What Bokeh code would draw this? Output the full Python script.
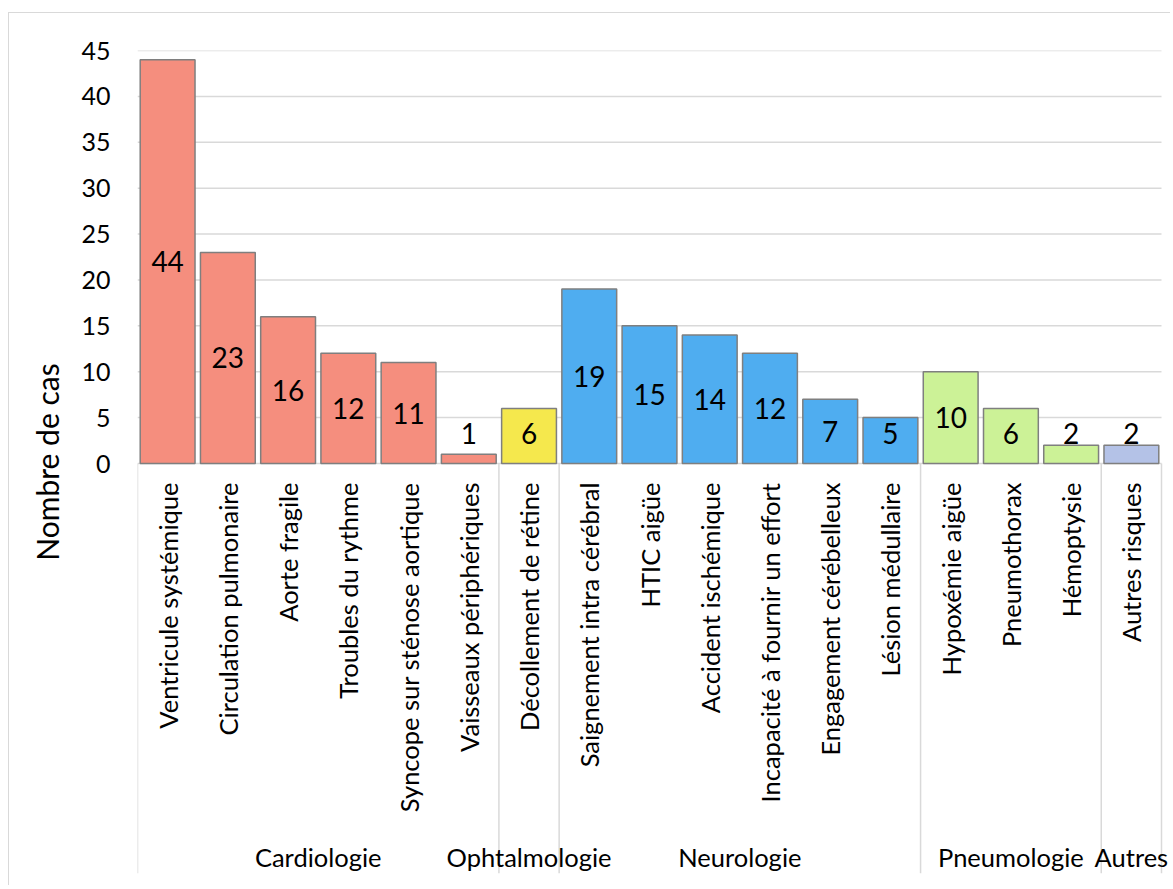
import math
from bokeh.plotting import figure
from bokeh.models import Range1d, FixedTicker, ColumnDataSource, LabelSet
from bokeh.core.properties import value
from bokeh.embed import file_html
from bokeh.resources import INLINE

# ---- data ----
categories = [
    "Ventricule systémique", "Circulation pulmonaire", "Aorte fragile",
    "Troubles du rythme", "Syncope sur sténose aortique", "Vaisseaux périphériques",
    "Décollement de rétine",
    "Saignement intra cérébral", "HTIC aigüe", "Accident ischémique",
    "Incapacité à fournir un effort", "Engagement cérébelleux", "Lésion médullaire",
    "Hypoxémie aigüe", "Pneumothorax", "Hémoptysie",
    "Autres risques",
]
values = [44, 23, 16, 12, 11, 1, 6, 19, 15, 14, 12, 7, 5, 10, 6, 2, 2]
groups = [
    "Cardiologie", "Cardiologie", "Cardiologie", "Cardiologie", "Cardiologie", "Cardiologie",
    "Ophtalmologie",
    "Neurologie", "Neurologie", "Neurologie", "Neurologie", "Neurologie", "Neurologie",
    "Pneumologie", "Pneumologie", "Pneumologie",
    "Autres",
]
group_names = ["Cardiologie", "Ophtalmologie", "Neurologie", "Pneumologie", "Autres"]
group_colors = ["#F58E7E", "#F5E84D", "#4FADF0", "#CCF297", "#B4C2E7"]
y_ticks = [0, 5, 10, 15, 20, 25, 30, 35, 40, 45]
y_label = "Nombre de cas"

# ---- layout constants ----
FONT = "Lato"
FRAME_H = 823
ZERO_PX = 413          # px from frame top to y=0
Y_MAX = 45
PPU = ZERO_PX / Y_MAX  # px per unit (y)
Y_MIN = -(FRAME_H - ZERO_PX) / PPU
PLOT_W = 1024          # px width of the category area
EXTRA_R = 10           # extra frame px to the right (room for the last group label)

def px(d):
    return d / PPU

n = len(categories)
xs = list(range(n))
color_of = dict(zip(group_names, group_colors))
colors = [color_of[g] for g in groups]
x_end = n - 0.5 + EXTRA_R * n / PLOT_W

p = figure(
    width=1162, height=873,
    x_range=Range1d(-0.5, x_end), y_range=Range1d(Y_MIN, Y_MAX),
    output_backend="svg", toolbar_location=None, x_axis_location=None,
    min_border_left=128, min_border_right=0, min_border_top=37, min_border_bottom=13,
    outline_line_color=None,
    styles={"border-left": "1px solid #D9D9D9", "border-top": "1px solid #D9D9D9",
            "margin": "12px 0px 0px 8px"},
)

# axis
p.yaxis.ticker = FixedTicker(ticks=y_ticks)
p.yaxis.axis_line_color = None
p.yaxis.major_tick_line_color = None
p.yaxis.minor_tick_line_color = None
p.yaxis.major_tick_out = 0
p.yaxis.major_tick_in = 0
p.yaxis.major_label_standoff = 27
p.yaxis.major_label_text_font = FONT
p.yaxis.major_label_text_font_size = "25px"
p.yaxis.major_label_text_color = "#000000"
p.yaxis.axis_label = y_label
p.yaxis.axis_label_text_font = FONT
p.yaxis.axis_label_text_font_size = "30px"
p.yaxis.axis_label_text_font_style = "normal"
p.yaxis.axis_label_text_color = "#000000"
p.yaxis.axis_label_standoff = 13
p.xgrid.visible = False
p.ygrid.visible = False

# horizontal gridlines at the y ticks, spanning the category area only
p.segment(x0=[-0.5] * len(y_ticks), x1=[n - 0.5] * len(y_ticks), y0=y_ticks, y1=y_ticks,
          line_color="#D9D9D9", line_width=1.5)

# group separators
bounds = [-0.5] + [i + 0.5 for i in range(n - 1) if groups[i] != groups[i + 1]] + [n - 0.5]
p.segment(x0=bounds, y0=[0] * len(bounds), x1=bounds, y1=[Y_MIN] * len(bounds),
          line_color="#D9D9D9", line_width=1.5)

# bars
src = ColumnDataSource(dict(x=xs, v=values, color=colors,
                            lab=[str(v) for v in values],
                            ly=[max(v / 2, 3.3) for v in values]))
p.vbar(x="x", top="v", width=0.91, bottom=0, fill_color="color",
       line_color="#7F7F7F", line_width=1.5, source=src)

# data labels
p.text(x="x", y="ly", text="lab", source=src, text_align="center", text_baseline="middle",
       text_font=value(FONT), text_font_size="28px", text_color="#000000")

# category labels
p.text(x=xs, y=[px(-19)] * n, text=categories, angle=math.pi / 2,
       text_align="right", text_baseline="middle",
       text_font=value(FONT), text_font_size="25.5px", text_color="#000000")

# group labels
gx = []
for g in group_names:
    idx = [i for i, gg in enumerate(groups) if gg == g]
    gx.append(sum(idx) / len(idx))
gsrc = ColumnDataSource(dict(x=gx, y=[px(-393)] * len(gx), t=group_names))
p.add_layout(LabelSet(x="x", y="y", text="t", source=gsrc,
                      text_align="center", text_baseline="middle",
                      text_font=value(FONT), text_font_size="25.5px", text_color="#000000"))

open("out.html", "w").write(file_html(p, INLINE))
